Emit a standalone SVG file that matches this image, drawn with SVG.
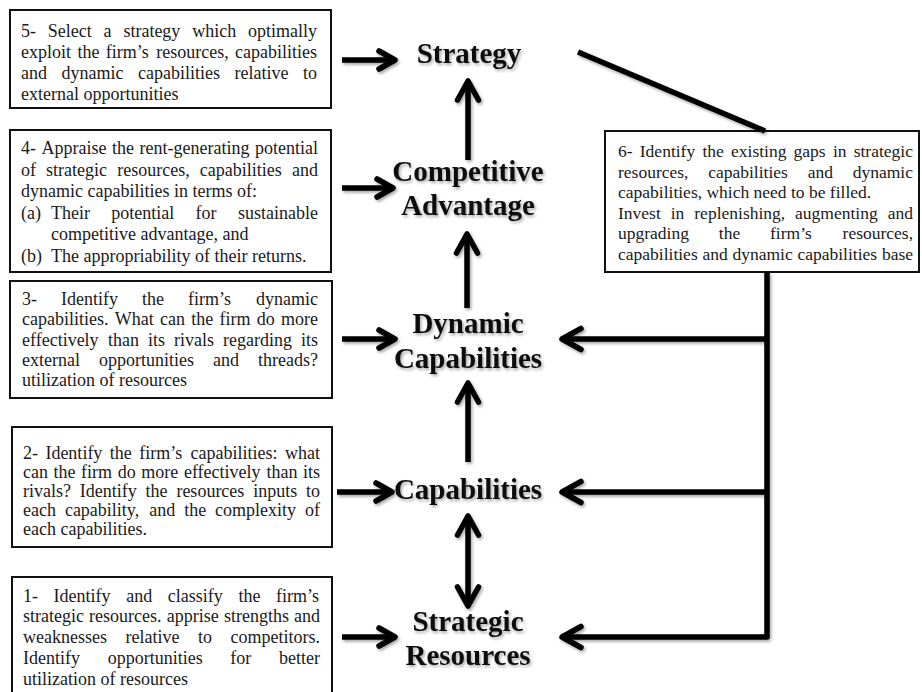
<svg xmlns="http://www.w3.org/2000/svg" width="922" height="692" viewBox="0 0 922 692">
<style>
.box{fill:#fff;stroke:#111;stroke-width:2}
.t{font-family:"Liberation Serif","Times New Roman",serif;font-size:18px;fill:#1a1a1a}
.t6{font-size:17.5px}
.lbl{font-family:"Liberation Serif","Times New Roman",serif;font-weight:bold;font-size:29px;text-anchor:middle;fill:#0d0d0d}
.c{fill:none;stroke:#000;stroke-width:5.5}
.hd{fill:none;stroke:#000;stroke-width:5.5;stroke-linecap:round;stroke-linejoin:round}
</style>
<defs>
<filter id="sh" x="-5%" y="-5%" width="115%" height="115%">
<feDropShadow dx="1.5" dy="2" stdDeviation="1.5" flood-color="#000" flood-opacity="0.35"/>
</filter>
<marker id="as" markerUnits="userSpaceOnUse" viewBox="-22 -14 26 28" refX="0" refY="0" markerWidth="26" markerHeight="28" orient="auto">
<path class="hd" d="M-16,-9 L0,0 L-16,9"/>
</marker>
<marker id="al" markerUnits="userSpaceOnUse" viewBox="-25 -15 29 30" refX="0" refY="0" markerWidth="29" markerHeight="30" orient="auto-start-reverse">
<path class="hd" d="M-19,-10.5 L0,0 L-19,10.5"/>
</marker>
</defs>
<rect width="922" height="692" fill="#fff"/>

<g id="box5">
<rect class="box" x="10" y="10" width="321" height="98"/>
<text class="t" y="37.3"><tspan x="21">5-</tspan><tspan x="47.8">Select</tspan><tspan x="103.6">a</tspan><tspan x="123.4">strategy</tspan><tspan x="192.2">which</tspan><tspan x="248">optimally</tspan></text>
<text class="t" y="58.2"><tspan x="21">exploit</tspan><tspan x="77.4">the</tspan><tspan x="105.8">firm’s</tspan><tspan x="156.2">resources,</tspan><tspan x="235.1">capabilities</tspan></text>
<text class="t" y="79.1"><tspan x="21">and</tspan><tspan x="61.5">dynamic</tspan><tspan x="138">capabilities</tspan><tspan x="234.5">relative</tspan><tspan x="303">to</tspan></text>
<text class="t" x="21" y="100">external opportunities</text>
</g>

<g id="box4">
<rect class="box" x="10" y="130" width="321" height="142"/>
<text class="t" y="154"><tspan x="21">4-</tspan><tspan x="41.5">Appraise</tspan><tspan x="112">the</tspan><tspan x="139.5">rent-generating</tspan><tspan x="255">potential</tspan></text>
<text class="t" y="175.6"><tspan x="21">of</tspan><tspan x="46.1">strategic</tspan><tspan x="117.2">resources,</tspan><tspan x="199.8">capabilities</tspan><tspan x="291.9">and</tspan></text>
<text class="t" x="21" y="197.2">dynamic capabilities in terms of:</text>
<text class="t" y="218.8"><tspan x="21">(a)</tspan><tspan x="51">Their</tspan><tspan x="111.3">potential</tspan><tspan x="195.6">for</tspan><tspan x="237.9">sustainable</tspan></text>
<text class="t" x="51" y="240.4">competitive advantage, and</text>
<text class="t" y="262"><tspan x="21">(b)</tspan><tspan x="51">The appropriability of their returns.</tspan></text>
</g>

<g id="box3">
<rect class="box" x="10" y="281" width="322" height="117"/>
<text class="t" y="305"><tspan x="22">3-</tspan><tspan x="61">Identify</tspan><tspan x="142">the</tspan><tspan x="188">firm’s</tspan><tspan x="256">dynamic</tspan></text>
<text class="t" y="325.25"><tspan x="22">capabilities.</tspan><tspan x="114.75">What</tspan><tspan x="160">can</tspan><tspan x="191.25">the</tspan><tspan x="219.5">firm</tspan><tspan x="256.75">do</tspan><tspan x="281">more</tspan></text>
<text class="t" y="345.5"><tspan x="22">effectively</tspan><tspan x="108">than</tspan><tspan x="148">its</tspan><tspan x="174">rivals</tspan><tspan x="223">regarding</tspan><tspan x="301">its</tspan></text>
<text class="t" y="365.75"><tspan x="22">external</tspan><tspan x="99">opportunities</tspan><tspan x="213">and</tspan><tspan x="258">threads?</tspan></text>
<text class="t" x="22" y="386">utilization of resources</text>
</g>

<g id="box2">
<rect class="box" x="12" y="427" width="320" height="120"/>
<text class="t" y="458.5"><tspan x="23">2-</tspan><tspan x="45.4">Identify</tspan><tspan x="109.8">the</tspan><tspan x="139.2">firm’s</tspan><tspan x="190.6">capabilities:</tspan><tspan x="285">what</tspan></text>
<text class="t" y="477.5"><tspan x="23">can</tspan><tspan x="53.6">the</tspan><tspan x="81.1">firm</tspan><tspan x="117.7">do</tspan><tspan x="141.3">more</tspan><tspan x="183.9">effectively</tspan><tspan x="266.4">than</tspan><tspan x="303">its</tspan></text>
<text class="t" y="496.5"><tspan x="23">rivals?</tspan><tspan x="79.8">Identify</tspan><tspan x="145.6">the</tspan><tspan x="176.4">resources</tspan><tspan x="253.2">inputs</tspan><tspan x="306">to</tspan></text>
<text class="t" y="515.5"><tspan x="23">each</tspan><tspan x="64.9">capability,</tspan><tspan x="149.3">and</tspan><tspan x="184.2">the</tspan><tspan x="215.1">complexity</tspan><tspan x="305">of</tspan></text>
<text class="t" x="23" y="534.5">each capabilities.</text>
</g>

<g id="box1">
<rect class="box" x="12" y="577" width="320" height="130"/>
<text class="t" y="601.5"><tspan x="23">1-</tspan><tspan x="53.6">Identify</tspan><tspan x="126.2">and</tspan><tspan x="167.8">classify</tspan><tspan x="238.4">the</tspan><tspan x="276">firm’s</tspan></text>
<text class="t" y="622.4"><tspan x="23">strategic</tspan><tspan x="89.1">resources.</tspan><tspan x="166.75">apprise</tspan><tspan x="223.9">strengths</tspan><tspan x="294">and</tspan></text>
<text class="t" y="643.2"><tspan x="23">weaknesses</tspan><tspan x="125.5">relative</tspan><tspan x="198">to</tspan><tspan x="230.5">competitors.</tspan></text>
<text class="t" y="664.1"><tspan x="23">Identify</tspan><tspan x="107.7">opportunities</tspan><tspan x="230.3">for</tspan><tspan x="279">better</tspan></text>
<text class="t" x="23" y="685">utilization of resources</text>
</g>

<g id="box6">
<rect class="box" x="605" y="131" width="314" height="141"/>
<text class="t t6" y="157"><tspan x="618">6-</tspan><tspan x="639.8">Identify</tspan><tspan x="702.4">the</tspan><tspan x="731">existing</tspan><tspan x="793.6">gaps</tspan><tspan x="832.9">in</tspan><tspan x="853.7">strategic</tspan></text>
<text class="t t6" y="177.6"><tspan x="618">resources,</tspan><tspan x="708.2">capabilities</tspan><tspan x="807.7">and</tspan><tspan x="852.7">dynamic</tspan></text>
<text class="t t6" x="618" y="198.2">capabilities, which need to be filled.</text>
<text class="t t6" y="218.8"><tspan x="618">Invest</tspan><tspan x="670.7">in</tspan><tspan x="694.3">replenishing,</tspan><tspan x="795.1">augmenting</tspan><tspan x="887.7">and</tspan></text>
<text class="t t6" y="239.4"><tspan x="618">upgrading</tspan><tspan x="718.8">the</tspan><tspan x="770">firm’s</tspan><tspan x="842.6">resources,</tspan></text>
<text class="t t6" y="260"><tspan x="618">capabilities</tspan><tspan x="702.5">and</tspan><tspan x="732.4">dynamic</tspan><tspan x="797.4">capabilities</tspan><tspan x="881.9">base</tspan></text>
</g>

<g id="strategy" filter="url(#sh)">
<text class="lbl" x="469" y="63">Strategy</text>
</g>
<g id="competitive-advantage" filter="url(#sh)">
<text class="lbl" x="468" y="181">Competitive</text>
<text class="lbl" x="468" y="215">Advantage</text>
</g>
<g id="dynamic-capabilities" filter="url(#sh)">
<text class="lbl" x="468" y="333">Dynamic</text>
<text class="lbl" x="468" y="368">Capabilities</text>
</g>
<g id="capabilities" filter="url(#sh)">
<text class="lbl" x="468" y="499">Capabilities</text>
</g>
<g id="strategic-resources" filter="url(#sh)">
<text class="lbl" x="468" y="631">Strategic</text>
<text class="lbl" x="468" y="665">Resources</text>
</g>

<g id="connectors" filter="url(#sh)">
<line class="c" x1="342" y1="60" x2="395" y2="60" marker-end="url(#as)"/>
<line class="c" x1="342" y1="188" x2="393" y2="188" marker-end="url(#as)"/>
<line class="c" x1="342" y1="339" x2="395" y2="339" marker-end="url(#as)"/>
<line class="c" x1="337" y1="492" x2="392" y2="492" marker-end="url(#as)"/>
<line class="c" x1="342" y1="637" x2="395" y2="637" marker-end="url(#as)"/>
<line class="c" x1="468" y1="160" x2="468" y2="81" marker-end="url(#al)"/>
<line class="c" x1="467" y1="308" x2="467" y2="234" marker-end="url(#al)"/>
<line class="c" x1="468" y1="462" x2="468" y2="383" marker-end="url(#al)"/>
<line class="c" x1="468" y1="516" x2="468" y2="606" marker-start="url(#al)" marker-end="url(#al)"/>
<polyline class="c" points="767,272 767,637 562,637" marker-end="url(#al)" stroke-linejoin="round"/>
<line class="c" x1="767" y1="339" x2="562" y2="339" marker-end="url(#al)"/>
<line class="c" x1="767" y1="492" x2="562" y2="492" marker-end="url(#al)"/>
<line class="c" x1="578" y1="52" x2="765" y2="131" stroke-width="4.5"/>
</g>
</svg>
